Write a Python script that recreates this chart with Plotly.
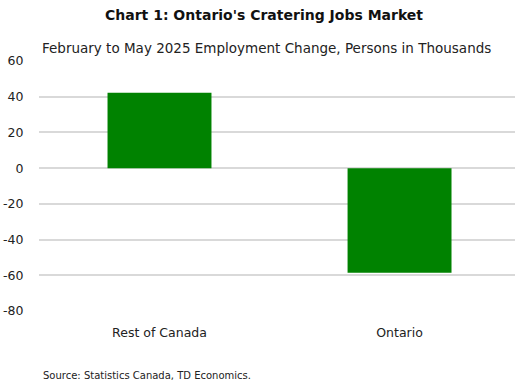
import plotly.graph_objects as go

categories = ["Rest of Canada", "Ontario"]
values = [42.2, -58.6]
y_ticks = [-80, -60, -40, -20, 0, 20, 40, 60]
y_tick_labels = ["-80", "-60", "-40", "-20", "0", "20", "40", "60"]

font_family = "'DejaVu Sans', sans-serif"

W, H = 519, 386
ML, MR, MT, MB = 39, 4, 61, 75
plot_h = H - MT - MB
plot_w = W - ML - MR

def py(ypix):
    return (H - MB - ypix) / plot_h

def px(xpix):
    return (xpix - ML) / plot_w

fig = go.Figure()
fig.add_trace(go.Bar(
    x=categories, y=values,
    marker=dict(color="#008200", line=dict(width=0)),
    width=0.433,
    hoverinfo="x+y",
))

fig.update_layout(
    width=W, height=H,
    margin=dict(l=ML, r=MR, t=MT, b=MB, autoexpand=False),
    paper_bgcolor="white", plot_bgcolor="white",
    font=dict(family=font_family, color="#222222"),
    showlegend=False,
)

fig.add_annotation(text="<b>Chart 1: Ontario's Cratering Jobs Market</b>", x=px(264), y=py(15),
                   xref="paper", yref="paper", showarrow=False, xanchor="center", yanchor="middle",
                   font=dict(size=14, color="#111111", family=font_family))
fig.add_annotation(text="February to May 2025 Employment Change, Persons in Thousands", x=px(266), y=py(48),
                   xref="paper", yref="paper", showarrow=False, xanchor="center", yanchor="middle",
                   font=dict(size=13.5, color="#222222", family=font_family))
fig.add_annotation(text="Source: Statistics Canada, TD Economics.", x=px(41), y=py(375),
                   xref="paper", yref="paper", showarrow=False, xanchor="left", yanchor="middle",
                   font=dict(size=10, color="#222222", family=font_family))

fig.update_yaxes(
    range=[-80, 60], tickvals=y_ticks, ticktext=y_tick_labels,
    automargin=False,
    showgrid=True, gridcolor="#d9d9d9", gridwidth=1.5,
    zeroline=False, showline=False,
    ticks="outside", ticklen=12, tickcolor="rgba(0,0,0,0)",
    tickfont=dict(size=12.5, color="#222222", family=font_family),
)
fig.update_xaxes(
    range=[-0.502, 1.481],
    automargin=False,
    showgrid=False, showline=False, zeroline=False,
    ticks="outside", ticklen=10, tickcolor="rgba(0,0,0,0)",
    tickfont=dict(size=12.5, color="#222222", family=font_family),
)

fig.write_html("out.html", config={"displayModeBar": False},
               post_script="document.body.style.margin='0px';")
